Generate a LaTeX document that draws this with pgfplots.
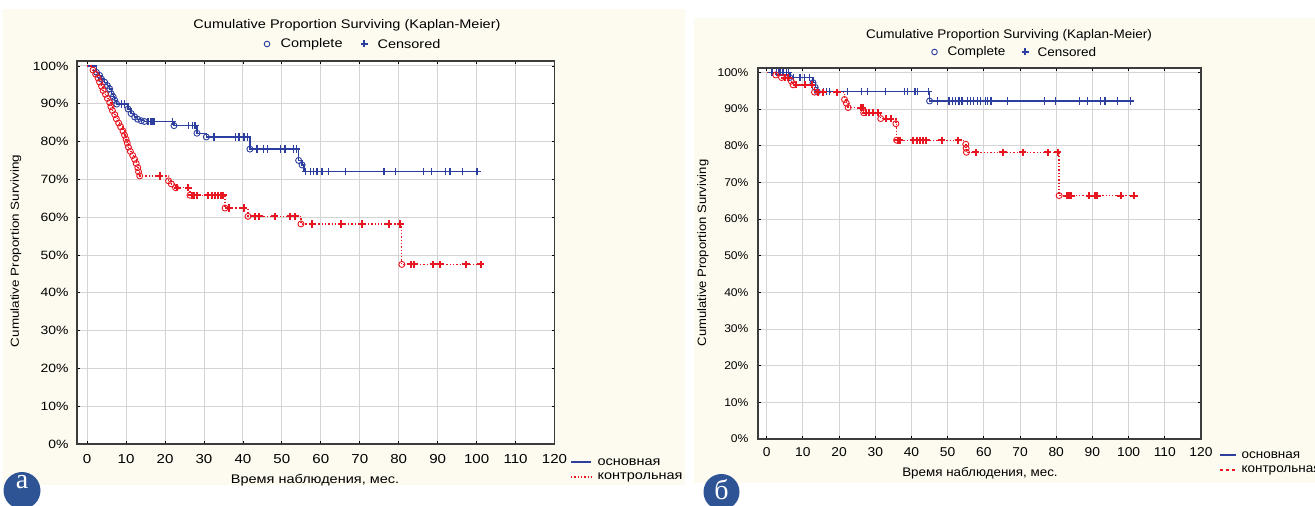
\documentclass[border=0pt]{standalone}
\usepackage{fontspec}
\setmainfont{Liberation Sans}
\newfontfamily\lf{Liberation Sans}[FakeStretch=1.16]
\newfontfamily\rf{Liberation Sans}[FakeStretch=1.08]
\newfontfamily\badgefont{Liberation Serif}
\usepackage{pgfplots}
\usepackage{pgfplotstable}
\pgfplotsset{compat=1.18}
\newcommand\lfs[1]{\lf\fontsize{#1}{#1}\selectfont}
\newcommand\rfs[1]{\rf\fontsize{#1}{#1}\selectfont}
\definecolor{cream}{RGB}{253,250,239}
\definecolor{kmblue}{RGB}{44,62,158}
\definecolor{kmred}{RGB}{232,22,32}
\definecolor{gridc}{RGB}{212,212,212}
\definecolor{badge}{RGB}{46,84,150}
\definecolor{framec}{RGB}{60,60,60}

\pgfplotstableread{
t S c
0 100 0
2.4 98.3 1
3.2 97.5 1
3.7 96.5 1
4.5 95.7 1
5.2 94.8 1
5.8 93.9 1
6.2 92.6 1
6.7 91.8 1
7.1 90.9 1
7.6 89.9 1
8.8 89.9 2
9.6 89.9 2
10.5 88.6 1
11.3 87.4 1
12.2 86.5 1
13.0 85.9 1
13.9 85.5 1
14.7 85.3 1
15.6 85.3 2
16.4 85.3 2
16.9 85.3 2
17.3 85.3 2
22.0 85.3 2
22.3 84.2 1
26.1 84.2 2
27.0 84.2 2
27.7 84.2 2
28.2 82.2 1
30.6 81.2 1
32.6 81.2 2
38.1 81.2 2
39.0 81.2 2
40.3 81.2 2
41.1 81.2 2
41.8 78.0 1
43.6 78.0 2
45.3 78.0 2
46.3 78.0 2
49.7 78.0 2
50.8 78.0 2
52.9 78.0 2
53.8 78.0 2
54.3 75.0 1
55.2 73.8 1
55.7 72.1 0
56.0 72.1 2
57.3 72.1 2
58.1 72.1 2
59.0 72.1 2
60.3 72.1 2
62.0 72.1 2
66.3 72.1 2
76.2 72.1 2
79.2 72.1 2
86.4 72.1 2
88.5 72.1 2
92.1 72.1 2
93.2 72.1 2
96.4 72.1 2
100.1 72.1 2
100.8 72.1 0
}\LB

\pgfplotstableread{
t S c
0 100 0
1.5 98.9 1
2.2 97.8 1
2.8 96.8 1
3.2 95.7 1
3.7 94.6 1
4.1 93.5 1
4.7 92.5 1
5.2 91.4 1
5.8 90.3 1
6.1 89.2 1
6.5 88.2 1
7.1 87.1 1
7.5 86.0 1
8.1 84.9 1
8.6 83.9 1
9.2 82.8 1
9.6 81.7 1
10.0 80.6 1
10.3 79.6 1
10.6 78.5 1
11.1 77.4 1
11.7 76.3 1
12.2 75.3 1
12.6 74.2 1
13.0 73.1 1
13.2 72.0 1
13.5 70.9 1
18.6 70.9 2
20.9 69.6 1
21.6 68.8 1
22.7 67.8 1
23.2 67.8 2
26.0 67.8 2
26.4 65.8 1
26.8 65.8 2
27.5 65.8 2
28.3 65.8 2
31.0 65.8 2
32.0 65.8 2
32.8 65.8 2
33.6 65.8 2
34.4 65.8 2
35.0 65.8 2
35.4 62.4 1
36.5 62.4 2
40.2 62.4 2
41.3 60.2 1
43.0 60.2 2
44.2 60.2 2
48.2 60.2 2
52.2 60.2 2
53.4 60.2 2
54.9 58.2 1
57.8 58.2 2
65.3 58.2 2
70.5 58.2 2
77.4 58.2 2
80.4 58.2 2
80.8 47.5 1
83.1 47.5 2
84.0 47.5 2
88.9 47.5 2
90.6 47.5 2
97.3 47.5 2
101.1 47.5 2
}\LR

\pgfplotstableread{
t S c
0 100 0
1.5 100 2
2.7 100 2
3.2 100 2
3.7 100 2
4.5 100 2
5.5 100 2
6.0 100 2
6.4 98.6 1
7.5 98.6 2
9.2 98.6 2
10.5 98.6 2
11.9 98.6 2
12.8 97.2 1
13.4 95.9 1
14.0 94.7 1
15.6 94.7 2
16.5 94.7 2
17.4 94.7 2
22.4 94.7 2
26.1 94.7 2
27.9 94.7 2
32.8 94.7 2
38.0 94.7 2
38.9 94.7 2
40.8 94.7 2
41.2 94.7 2
41.7 94.7 2
44.7 94.7 2
45.0 92.2 1
47.2 92.2 2
50.4 92.2 2
51.3 92.2 2
52.2 92.2 2
53.1 92.2 2
54.0 92.2 2
55.4 92.2 2
56.3 92.2 2
57.2 92.2 2
58.2 92.2 2
59.1 92.2 2
60.4 92.2 2
61.1 92.2 2
62.0 92.2 2
66.5 92.2 2
76.7 92.2 2
79.7 92.2 2
86.4 92.2 2
88.6 92.2 2
92.3 92.2 2
93.5 92.2 2
96.9 92.2 2
100.6 92.2 2
}\RB

\pgfplotstableread{
t S c
0 100 0
2.5 99.3 1
4.1 98.6 1
5.0 98.6 2
6.0 98.6 2
6.8 97.6 1
7.3 96.6 1
8.2 96.6 2
10.5 96.6 2
12.4 96.6 2
13.2 94.6 1
14.2 94.6 2
15.6 94.6 2
19.4 94.6 2
21.5 92.6 1
22.0 91.6 1
22.5 90.4 1
26.0 90.4 2
26.5 90.4 2
26.8 89.0 1
27.3 89.0 2
28.2 89.0 2
29.3 89.0 2
30.8 89.0 2
31.5 87.4 1
33.0 87.4 2
34.3 87.4 2
35.7 86.0 1
35.9 81.5 1
36.3 81.5 2
36.8 81.5 2
40.5 81.5 2
41.4 81.5 2
42.3 81.5 2
43.2 81.5 2
44.0 81.5 2
48.3 81.5 2
52.9 81.5 2
55.0 80.4 1
55.1 79.3 1
55.2 78.2 1
57.8 78.2 2
65.3 78.2 2
70.7 78.2 2
77.6 78.2 2
80.4 78.2 2
80.8 66.4 1
82.9 66.4 2
83.5 66.4 2
84.1 66.4 2
89.1 66.4 2
90.6 66.4 2
91.4 66.4 2
97.8 66.4 2
101.5 66.4 2
}\RR

\pgfplotsset{
  kmaxis/.style={
    scale only axis, anchor=south west,
    xmax=120, ymin=0,
    xtick={0,10,...,120},
    xticklabels={0,10,20,30,40,50,60,70,80,90,100,110,120},
    ytick={0,10,...,100},
    yticklabels={0\%,10\%,20\%,30\%,40\%,50\%,60\%,70\%,80\%,90\%,100\%},
    grid=major,
    major grid style={gridc, line width=0.9pt},
    axis line style={framec, line width=1.2pt},
    tick style={black, line width=0.8pt},
    tick align=inside, major tick length=3pt,
    axis background/.style={fill=white},
  },
  kmline/.style={const plot, no marks, line width=1.3pt},
  kmcirc/.style={only marks, mark=o, mark size=3pt, mark options={line width=0.9pt}},
  kmcens/.style={only marks, mark=+, mark size=3.6pt, mark options={line width=#1}},
}

\begin{document}
\begin{tikzpicture}
\useasboundingbox (0pt,0pt) rectangle (1315pt,506pt);
\fill[white] (0pt,0pt) rectangle (1315pt,506pt);
\fill[cream] (3pt,21pt) rectangle (685pt,497pt);
\fill[cream] (694pt,23pt) rectangle (1315pt,488pt);

% ---------- left panel ----------
\begin{axis}[kmaxis, at={(77pt,62pt)}, width=477.5pt, height=383pt,
  xmin=-2.6, ymax=101.3,
  xticklabel style={font=\lfs{13}, yshift=-7pt},
  yticklabel style={font=\lfs{12}, xshift=-5pt}]
\addplot[kmline, kmblue] table[x=t,y=S]{\LB};
\addplot[kmcirc, kmblue] table[x=t,y=S, restrict expr to domain={\thisrow{c}}{1:1}]{\LB};
\addplot[kmcens=1.3pt, kmblue] table[x=t,y=S, restrict expr to domain={\thisrow{c}}{2:2}]{\LB};
\addplot[kmline, kmred, dotted] table[x=t,y=S]{\LR};
\addplot[kmcirc, kmred] table[x=t,y=S, restrict expr to domain={\thisrow{c}}{1:1}]{\LR};
\addplot[kmcens=2pt, kmred] table[x=t,y=S, restrict expr to domain={\thisrow{c}}{2:2}]{\LR};
\end{axis}

\node[font=\lfs{12.5}] at (347pt,481pt) {Cumulative Proportion Surviving (Kaplan-Meier)};
\draw[kmblue, line width=0.9pt] (267pt,462pt) circle (2.8pt);
\node[font=\lfs{12.5}, anchor=west] at (277pt,462pt) {Complete};
\draw[kmblue, line width=1.3pt] (360.5pt,462pt) -- (367.5pt,462pt) (364pt,458.5pt) -- (364pt,465.5pt);
\node[font=\lfs{12.5}, anchor=west] at (374pt,462pt) {Censored};
\node[font=\lfs{11.6}, rotate=90] at (16pt,255pt) {Cumulative Proportion Surviving};
\node[font=\lfs{12.5}] at (315pt,26pt) {Время наблюдения, мес.};
\draw[kmblue, line width=1.3pt] (571pt,44pt) -- (591pt,44pt);
\node[font=\lfs{12.5}, anchor=west] at (594pt,44pt) {основная};
\draw[kmred, line width=1.3pt, dotted] (571pt,29pt) -- (591pt,29pt);
\node[font=\lfs{12.5}, anchor=west] at (594pt,29pt) {контрольная};
\fill[badge] (22pt,15.5pt) circle (18.5pt);
\node[font=\badgefont\fontsize{28}{28}\selectfont, text=white, anchor=base] at (22pt,17pt) {а};

% ---------- right panel ----------
\begin{axis}[kmaxis, at={(758pt,67pt)}, width=443pt, height=371pt,
  xmin=-2.4, ymax=101.2,
  xticklabel style={font=\rfs{12.8}, yshift=-5pt},
  yticklabel style={font=\rfs{11.2}, xshift=-6pt}]
\addplot[kmline, kmblue] table[x=t,y=S]{\RB};
\addplot[kmcirc, kmblue] table[x=t,y=S, restrict expr to domain={\thisrow{c}}{1:1}]{\RB};
\addplot[kmcens=1.3pt, kmblue] table[x=t,y=S, restrict expr to domain={\thisrow{c}}{2:2}]{\RB};
\addplot[kmline, kmred, dotted] table[x=t,y=S]{\RR};
\addplot[kmcirc, kmred] table[x=t,y=S, restrict expr to domain={\thisrow{c}}{1:1}]{\RR};
\addplot[kmcens=2pt, kmred] table[x=t,y=S, restrict expr to domain={\thisrow{c}}{2:2}]{\RR};
\end{axis}

\node[font=\rfs{12.5}] at (1009pt,471pt) {Cumulative Proportion Surviving (Kaplan-Meier)};
\draw[kmblue, line width=0.9pt] (934.5pt,454pt) circle (2.8pt);
\node[font=\rfs{12.5}, anchor=west] at (944pt,454pt) {Complete};
\draw[kmblue, line width=1.3pt] (1021.5pt,454pt) -- (1028.5pt,454pt) (1025pt,450.5pt) -- (1025pt,457.5pt);
\node[font=\rfs{12.5}, anchor=west] at (1034pt,454pt) {Censored};
\node[font=\rfs{12.1}, rotate=90] at (703pt,253pt) {Cumulative Proportion Surviving};
\node[font=\rfs{12.4}] at (980pt,33pt) {Время наблюдения, мес.};
\draw[kmblue, line width=1.3pt] (1220pt,51pt) -- (1236pt,51pt);
\node[font=\rfs{12.5}, anchor=west] at (1238pt,51pt) {основная};
\draw[kmred, line width=1.3pt, dash pattern=on 3pt off 3pt] (1220pt,36pt) -- (1236pt,36pt);
\node[font=\rfs{12.5}, anchor=west] at (1238pt,36pt) {контрольная};
\fill[badge] (721.5pt,14pt) circle (18pt);
\node[font=\badgefont\fontsize{28}{28}\selectfont, text=white, anchor=base] at (721.5pt,6pt) {б};
\end{tikzpicture}
\end{document}
